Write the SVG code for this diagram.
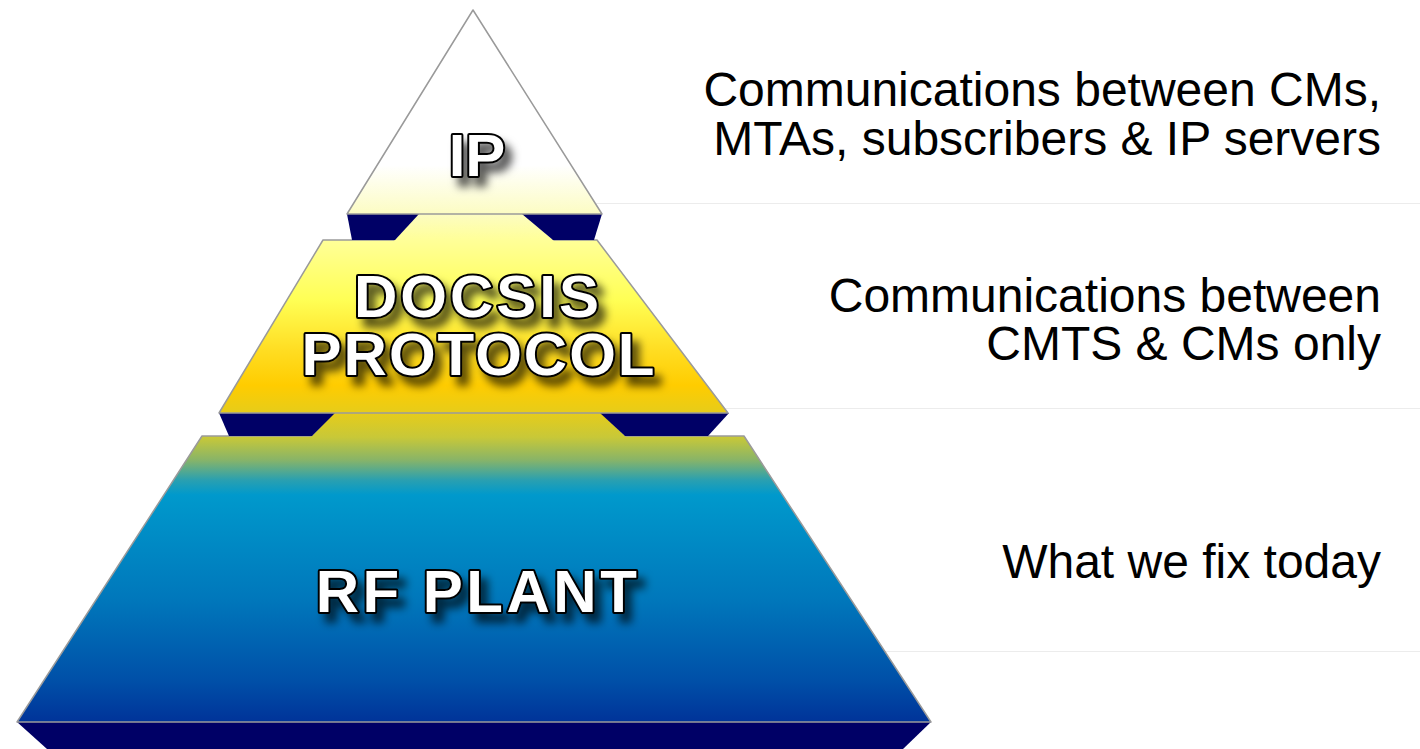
<svg xmlns="http://www.w3.org/2000/svg" width="1420" height="749" viewBox="0 0 1420 749">
  <defs>
    <linearGradient id="pyr" gradientUnits="userSpaceOnUse" x1="0" y1="10" x2="0" y2="722">
      <stop offset="0" stop-color="#ffffff"/>
      <stop offset="0.218" stop-color="#ffffff"/>
      <stop offset="0.285" stop-color="#fcfcc4"/>
      <stop offset="0.322" stop-color="#ffff99"/>
      <stop offset="0.407" stop-color="#ffff55"/>
      <stop offset="0.478" stop-color="#ffdd22"/>
      <stop offset="0.527" stop-color="#ffcc00"/>
      <stop offset="0.566" stop-color="#e6cc1a"/>
      <stop offset="0.6" stop-color="#c8c838"/>
      <stop offset="0.632" stop-color="#88b468"/>
      <stop offset="0.66" stop-color="#2aa0b0"/>
      <stop offset="0.681" stop-color="#0099cc"/>
      <stop offset="0.829" stop-color="#0077bb"/>
      <stop offset="0.941" stop-color="#0050a8"/>
      <stop offset="1" stop-color="#003399"/>
    </linearGradient>
    <filter id="shadow" x="-20%" y="-30%" width="150%" height="180%">
      <feDropShadow dx="7" dy="9" stdDeviation="4.5" flood-color="#000" flood-opacity="0.65"/>
    </filter>
    <style>
      .face { fill: url(#pyr); stroke: #9a9a9a; stroke-width: 1.5; stroke-linejoin: round; }
      .col { fill: url(#pyr); stroke: none; }
      .tab { fill: #000066; stroke: none; }
      .label { font-family: "Liberation Sans", Arial, sans-serif; font-weight: bold; font-size: 60px; fill: #ffffff; stroke: #000000; stroke-width: 4; paint-order: stroke; stroke-linejoin: round; text-anchor: middle; filter: url(#shadow); }
      .desc { font-family: "Liberation Sans", Arial, sans-serif; font-size: 48px; fill: #000000; text-anchor: end; }
      .sep { stroke: #ececec; stroke-width: 1; fill: none; }
    </style>
  </defs>
  <rect x="0" y="0" width="1420" height="749" fill="#ffffff"/>

  <g id="connectors">
    <line class="sep" x1="560" y1="203.5" x2="1420" y2="203.5"/>
    <line class="sep" x1="700" y1="408.5" x2="1420" y2="408.5"/>
    <line class="sep" x1="860" y1="651.5" x2="1420" y2="651.5"/>
  </g>

  <g id="layer-rf">
    <polygon class="tab" points="17,722 931,722 903,749 47,749"/>
    <polygon class="face" points="202,436 744,436 931,722 17,722"/>
    <text class="label" x="478" y="612" letter-spacing="3.5">RF PLANT</text>
  </g>

  <g id="layer-docsis">
    <polygon class="col" points="334,413 601,413 626,437 311,437"/>
    <polygon class="tab" points="219,413 335,413 312,436 229,436"/>
    <polygon class="tab" points="600,413 729,413 708,436 625,436"/>
    <polygon class="face" points="323,240 597,240 728,413 219,413"/>
    <text class="label" x="478" y="317" letter-spacing="3">DOCSIS</text>
    <text class="label" x="479" y="375" letter-spacing="2">PROTOCOL</text>
  </g>

  <g id="layer-ip">
    <polygon class="col" points="418,214 523,214 554,241 394,241"/>
    <polygon class="tab" points="347,214 419,214 395,240 352,240"/>
    <polygon class="tab" points="522,214 602,214 594,240 553,240"/>
    <polygon class="face" points="473,10 602,214 347,214"/>
    <text class="label" x="477" y="176">IP</text>
  </g>

  <g id="desc-ip">
    <text class="desc" x="1381" y="106">Communications between CMs,</text>
    <text class="desc" x="1381" y="155">MTAs, subscribers &amp; IP servers</text>
  </g>
  <g id="desc-docsis">
    <text class="desc" x="1381" y="312">Communications between</text>
    <text class="desc" x="1381" y="360">CMTS &amp; CMs only</text>
  </g>
  <g id="desc-rf">
    <text class="desc" x="1381" y="578">What we fix today</text>
  </g>
</svg>
